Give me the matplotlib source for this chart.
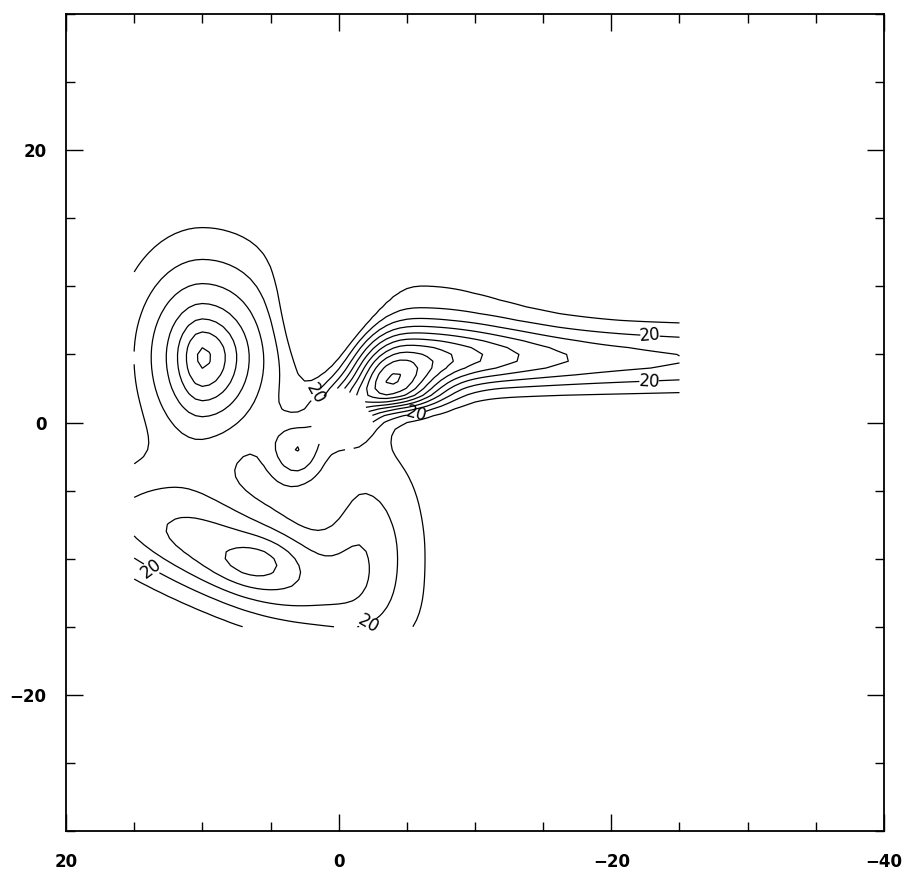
import numpy as np
import matplotlib
matplotlib.use("Agg")
import matplotlib.pyplot as plt
from matplotlib.ticker import MultipleLocator

# ----------------------------------------------------------------------------
# data: field built from blobs
# centre, amplitude, sigmas on each side of the centre (u-, u+, v-, v+), tilt
# ----------------------------------------------------------------------------
blob_x0 = [10.0, 10.0, 0.8, 3.0, 7.0, 5.8, -2.0, -3.8, -5.0, -5.0, -6.0, -0.5]
blob_y0 = [4.8, 4.8, 8.0, -2.0, -10.2, -10.2, -8.0, 2.3, 4.6, 4.6, 6.0, 1.0]
blob_amp = [50, 22, -35, 32, 45, 10, 22, 72, 38, 22, 15, 50]
blob_sul = [4.5, 1.7, 2.0, 1.5, 7.0, 2.0, 3.2, 2.6, 30.0, 6.0, 6.0, 1.6]
blob_suh = [3.7, 1.1, 2.0, 1.5, 10.0, 2.0, 2.0, 1.8, 3.5, 3.0, 3.0, 1.6]
blob_svl = [5.5, 2.2, 3.5, 1.9, 2.6, 1.2, 4.0, 1.0, 1.6, 1.3, 1.5, 1.6]
blob_svh = [5.3, 1.8, 3.5, 1.5, 3.0, 1.2, 5.0, 1.5, 1.8, 2.0, 4.0, 1.6]
blob_tilt = [0, 0, 0, 0, 21.8, 0, 0, 0, 0, 0, 0, 0]

grid_x = [-25.0, 15.0]
grid_y = [-15.0, 15.0]
hole_center = [-0.1, 0.1]
hole_radius = 2.0

levels = [10, 20, 30, 40, 50, 60, 70, 80, 90, 100, 110, 120]
label_level = 20
label_pos = [(13.8, -10.8), (-1.5, -14.0), (2.7, 2.6), (-5.5, 1.2),
             (-22.8, 6.0), (-22.8, 2.6)]

x_ticks = [20, 0, -20, -40]
y_ticks = [-20, 0, 20]


def blob(X, Y, x0, y0, a, sul, suh, svl, svh, tilt):
    t = np.deg2rad(tilt)
    u = (X - x0) * np.cos(t) + (Y - y0) * np.sin(t)
    v = -(X - x0) * np.sin(t) + (Y - y0) * np.cos(t)
    su = np.where(u < 0, sul, suh)
    sv = np.where(v < 0, svl, svh)
    return a * np.exp(-0.5 * ((u / su) ** 2 + (v / sv) ** 2))


xs = np.arange(grid_x[0], grid_x[1] + 0.01, 0.5)
ys = np.arange(grid_y[0], grid_y[1] + 0.01, 0.5)
X, Y = np.meshgrid(xs, ys)
Z = np.zeros_like(X)
for i in range(len(blob_x0)):
    Z += blob(X, Y, blob_x0[i], blob_y0[i], blob_amp[i], blob_sul[i],
              blob_suh[i], blob_svl[i], blob_svh[i], blob_tilt[i])
R = np.hypot(X - hole_center[0], Y - hole_center[1])
Z = np.ma.masked_where(R < hole_radius, Z)

fig = plt.figure(figsize=(9.12, 8.84), dpi=100)
ax = fig.add_axes([66 / 912, 53 / 884, 818 / 912, 817 / 884])

other_levels = [lv for lv in levels if lv != label_level]
ax.contour(X, Y, Z, levels=other_levels, colors="black", linewidths=0.9)
cs20 = ax.contour(X, Y, Z, levels=[label_level], colors="black", linewidths=0.9)
ax.clabel(cs20, manual=label_pos, fmt="%d", inline=True, fontsize=12,
          inline_spacing=4)

ax.set_xlim(20, -40)
ax.set_ylim(-30, 30)
ax.set_xticks(x_ticks)
ax.set_yticks(y_ticks)
ax.xaxis.set_minor_locator(MultipleLocator(5))
ax.yaxis.set_minor_locator(MultipleLocator(5))
ax.tick_params(which="both", direction="in", top=True, right=True,
               width=1.0, color="black")
ax.tick_params(which="major", length=12)
ax.tick_params(which="minor", length=6.5)
ax.tick_params(axis="x", pad=16)
ax.tick_params(axis="y", pad=14)
for lab in ax.get_xticklabels() + ax.get_yticklabels():
    lab.set_fontweight("bold")
    lab.set_fontsize(12)
for sp in ax.spines.values():
    sp.set_linewidth(1.3)

fig.savefig("out.png", dpi=100)
